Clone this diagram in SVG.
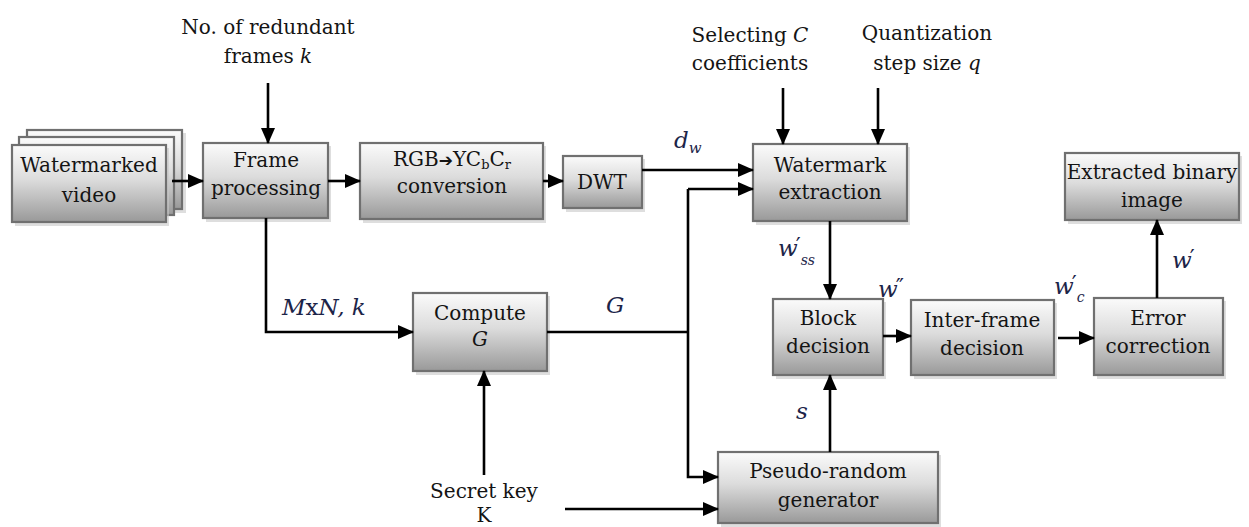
<svg xmlns="http://www.w3.org/2000/svg" width="1249" height="527" viewBox="0 0 1249 527">
<defs>
<linearGradient id="g" x1="0" y1="0" x2="0" y2="1">
<stop offset="0" stop-color="#fbfbfb"/>
<stop offset="0.45" stop-color="#dcdcdc"/>
<stop offset="1" stop-color="#999999"/>
</linearGradient>
<marker id="ah" markerUnits="userSpaceOnUse" markerWidth="16" markerHeight="14" refX="15" refY="7" orient="auto">
<path d="M0,0 L16,7 L0,14 Z" fill="#000"/>
</marker>
</defs>
<style>
.box{fill:url(#g);stroke:#707070;stroke-width:2.2}
.sh{fill:#c8c8c8;opacity:0.6}
text{font-family:'DejaVu Serif','Liberation Serif',serif}
.t{font-size:20px;fill:#141414;text-anchor:middle}
.m{font-size:23px;font-style:italic;fill:#1c2448}
.p{font-style:normal;font-size:22px}
.c{fill:none;stroke:#000;stroke-width:2.6}
.a{marker-end:url(#ah)}
</style>

<g id="video">
<rect class="sh" x="30" y="133" width="156" height="80"/>
<rect class="box" x="27" y="130" width="155" height="79"/>
<rect class="box" x="19" y="137" width="155" height="78"/>
<rect class="sh" x="15" y="148" width="154" height="78"/>
<rect class="box" x="12" y="145" width="154" height="77"/>
<text class="t" x="89" y="172">Watermarked</text>
<text class="t" x="89" y="202">video</text>
</g>

<g id="frame">
<rect class="sh" x="206" y="146" width="125" height="76"/>
<rect class="box" x="203" y="143" width="125" height="75"/>
<text class="t" x="266" y="167">Frame</text>
<text class="t" x="266" y="195">processing</text>
</g>

<g id="rgb">
<rect class="sh" x="363" y="146" width="183" height="77"/>
<rect class="box" x="360" y="143" width="183" height="76"/>
<text class="t" x="452" y="166">RGB<tspan font-family="DejaVu Sans" font-size="17" font-weight="bold">➔</tspan>YC<tspan font-size="13" dy="3">b</tspan><tspan dy="-3">C</tspan><tspan font-size="13" dy="3">r</tspan></text>
<text class="t" x="452" y="193">conversion</text>
</g>

<g id="dwt">
<rect class="sh" x="566" y="159" width="79" height="53"/>
<rect class="box" x="563" y="156" width="79" height="52"/>
<text class="t" x="602" y="189">DWT</text>
</g>

<g id="wm">
<rect class="sh" x="756" y="147" width="154" height="78"/>
<rect class="box" x="753" y="144" width="154" height="77"/>
<text class="t" x="830" y="172">Watermark</text>
<text class="t" x="830" y="199">extraction</text>
</g>

<g id="compute">
<rect class="sh" x="416" y="296" width="134" height="79"/>
<rect class="box" x="413" y="293" width="134" height="78"/>
<text class="t" x="480" y="320">Compute</text>
<text class="t" x="480" y="346" font-style="italic">G</text>
</g>

<g id="block">
<rect class="sh" x="776" y="302" width="110" height="77"/>
<rect class="box" x="773" y="299" width="110" height="76"/>
<text class="t" x="828" y="325">Block</text>
<text class="t" x="828" y="353">decision</text>
</g>

<g id="inter">
<rect class="sh" x="914" y="303" width="143" height="76"/>
<rect class="box" x="911" y="300" width="143" height="75"/>
<text class="t" x="982" y="327">Inter-frame</text>
<text class="t" x="982" y="355">decision</text>
</g>

<g id="error">
<rect class="sh" x="1097" y="301" width="129" height="78"/>
<rect class="box" x="1094" y="298" width="129" height="77"/>
<text class="t" x="1158" y="325">Error</text>
<text class="t" x="1158" y="353">correction</text>
</g>

<g id="extracted">
<rect class="sh" x="1068" y="156" width="174" height="68"/>
<rect class="box" x="1065" y="153" width="174" height="67"/>
<text class="t" x="1152" y="179">Extracted binary</text>
<text class="t" x="1152" y="207">image</text>
</g>

<g id="pseudo">
<rect class="sh" x="721" y="455" width="220" height="72"/>
<rect class="box" x="718" y="452" width="220" height="71"/>
<text class="t" x="828" y="478">Pseudo-random</text>
<text class="t" x="828" y="507">generator</text>
</g>

<g id="inputs">
<text class="t" x="268" y="34">No. of redundant</text>
<text class="t" x="268" y="63">frames <tspan font-style="italic">k</tspan></text>
<text class="t" x="750" y="42">Selecting <tspan font-style="italic">C</tspan></text>
<text class="t" x="750" y="70">coefficients</text>
<text class="t" x="927" y="40">Quantization</text>
<text class="t" x="927" y="70">step size <tspan font-style="italic">q</tspan></text>
<text class="t" x="484" y="498">Secret key</text>
<text class="t" x="484" y="522">K</text>
</g>

<g id="connectors">
<path class="c a" d="M172,181 H203"/>
<path class="c a" d="M328,181 H360"/>
<path class="c a" d="M543,181 H563"/>
<path class="c a" d="M642,170 H753"/>
<path class="c a" d="M268,83 V143"/>
<path class="c a" d="M783,88 V144"/>
<path class="c a" d="M878,88 V144"/>
<path class="c a" d="M266,218 V332 H413"/>
<path class="c" d="M547,332 H688"/>
<path class="c a" d="M688,189 H753"/>
<path class="c a" d="M688,189 V477 H718"/>
<path class="c a" d="M484,475 V371"/>
<path class="c a" d="M565,509 H718"/>
<path class="c a" d="M830,221 V299"/>
<path class="c a" d="M830,452 V375"/>
<path class="c a" d="M883,336 H911"/>
<path class="c a" d="M1058,338 H1094"/>
<path class="c a" d="M1157,298 V220"/>
</g>

<g id="labels">
<text class="m" x="778" y="256">w<tspan class="p" dx="-2" dy="-3">′</tspan><tspan font-size="14" dx="0" dy="12">ss</tspan></text>
<text class="m" x="674" y="148">d<tspan font-size="15" dy="5">w</tspan></text>
<text class="m" x="878" y="297">w<tspan class="p" dx="-2" dy="-3">″</tspan></text>
<text class="m" x="1054" y="294">w<tspan class="p" dx="-2" dy="-3">′</tspan><tspan font-size="14" dx="0" dy="11">c</tspan></text>
<text class="m" x="1172" y="268">w<tspan class="p" dx="-2" dy="-3">′</tspan></text>
<text class="m" x="606" y="313" font-size="22">G</text>
<text class="m" x="796" y="419" font-size="22">s</text>
<text class="m" x="282" y="315" font-size="20">M<tspan font-style="normal">x</tspan>N, k</text>
</g>
</svg>
